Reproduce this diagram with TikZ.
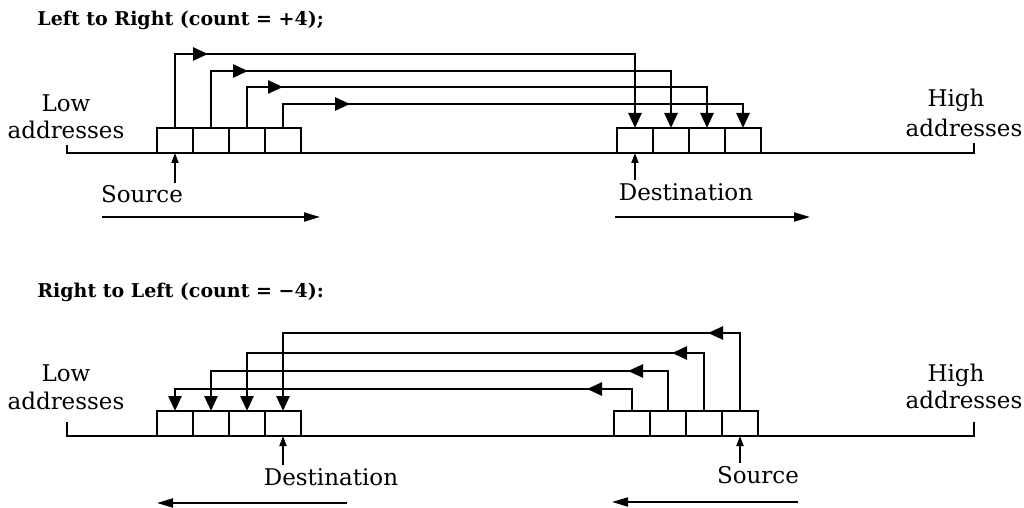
\documentclass[tikz,border=0pt]{standalone}
\usepackage{fontspec}
\setmainfont{DejaVu Serif}
\usetikzlibrary{arrows.meta,decorations.markings}
\begin{document}
\begin{tikzpicture}[x=0.5pt,y=-0.5pt,
  cell/.style={draw,line width=1.3pt,minimum width=18pt,minimum height=12.5pt,inner sep=0pt,outer sep=0pt},
  lbl/.style={font=\fontsize{11.5}{13.5}\selectfont,inner xsep=0pt,inner ysep=1.5pt,anchor=base},
  ttl/.style={font=\fontsize{9.5}{11}\selectfont\bfseries,inner sep=0pt,anchor=base west},
  wire/.style={line width=1.3pt},
  tipD/.style={-{Triangle[length=7.5pt,width=6.5pt]}},
  mid/.style={postaction=decorate,decoration={markings,mark=at position #1 with {\arrow{Triangle[length=7.5pt,width=6.5pt]}}}},
  ptr/.style={line width=1pt,-{Triangle[length=5pt,width=3.5pt]}},
  dirarrow/.style={line width=1pt,-{Triangle[length=8pt,width=4.5pt]}},
]
\useasboundingbox (0,0) rectangle (1024,508);

% ---------------- Top: Left to Right ----------------
\node[ttl] (t1) at (37,26) {Left to Right (count = +4);};
\node[lbl] (lowA) at (66,112) {Low};
\node[lbl] (lowB) at (66,139) {addresses};
\node[lbl] (highA) at (956,107) {High};
\node[lbl] (highB) at (964,137) {addresses};

\draw[wire] (67,145) |- (974,153) -- (974,143);

\foreach \i in {1,...,4} {
  \node[cell] (ts\i) at ({175+36*(\i-1)},140.5) {};
  \node[cell] (td\i) at ({635+36*(\i-1)},140.5) {};
}
\coordinate (T1) at (0,54);
\coordinate (T2) at (0,71);
\coordinate (T3) at (0,87);
\coordinate (T4) at (0,104);

\draw[wire,tipD,mid=53.5pt] (ts1.north) |- (td1.north |- T1) -- (td1.north);
\draw[wire,tipD,mid=47pt] (ts2.north) |- (td2.north |- T2) -- (td2.north);
\draw[wire,tipD,mid=38.5pt] (ts3.north) |- (td3.north |- T3) -- (td3.north);
\draw[wire,tipD,mid=45.5pt] (ts4.north) |- (td4.north |- T4) -- (td4.north);

\node[lbl] (srcA) at (142,203) {Source};
\node[lbl] (dstA) at (686,200) {Destination};
\draw[ptr] (srcA.north -| ts1.south) -- (ts1.south);
\draw[ptr] (dstA.north -| td1.south) -- (td1.south);

\coordinate (a1s) at (102,217);
\coordinate (a1e) at (320,217);
\coordinate (a2s) at (615,217);
\coordinate (a2e) at (810,217);
\draw[dirarrow] (a1s) -- (a1e);
\draw[dirarrow] (a2s) -- (a2e);

% ---------------- Bottom: Right to Left ----------------
\node[ttl] (t2) at (37,298) {Right to Left (count = −4):};
\node[lbl] (lowC) at (66,381) {Low};
\node[lbl] (lowD) at (66,409) {addresses};
\node[lbl] (highC) at (956,381) {High};
\node[lbl] (highD) at (964,408) {addresses};

\draw[wire] (67,422) |- (974,436) -- (974,422);

\foreach \i in {1,...,4} {
  \node[cell] (bd\i) at ({175+36*(\i-1)},423.5) {};
  \node[cell] (bs\i) at ({632+36*(\i-1)},423.5) {};
}
\coordinate (B1) at (0,333);
\coordinate (B2) at (0,353);
\coordinate (B3) at (0,371);
\coordinate (B4) at (0,389);

\draw[wire,tipD,mid=55pt] (bs4.north) |- (bd4.north |- B1) -- (bd4.north);
\draw[wire,tipD,mid=45pt] (bs3.north) |- (bd3.north |- B2) -- (bd3.north);
\draw[wire,tipD,mid=40pt] (bs2.north) |- (bd2.north |- B3) -- (bd2.north);
\draw[wire,tipD,mid=33.5pt] (bs1.north) |- (bd1.north |- B4) -- (bd1.north);

\node[lbl] (dstB) at (331,485) {Destination};
\node[lbl] (srcB) at (758,483) {Source};
\draw[ptr] (dstB.north -| bd4.south) -- (bd4.south);
\draw[ptr] (srcB.north -| bs4.south) -- (bs4.south);

\coordinate (b1s) at (347,503);
\coordinate (b1e) at (157,503);
\coordinate (b2s) at (798,502);
\coordinate (b2e) at (612,502);
\draw[dirarrow] (b1s) -- (b1e);
\draw[dirarrow] (b2s) -- (b2e);
\end{tikzpicture}
\end{document}
